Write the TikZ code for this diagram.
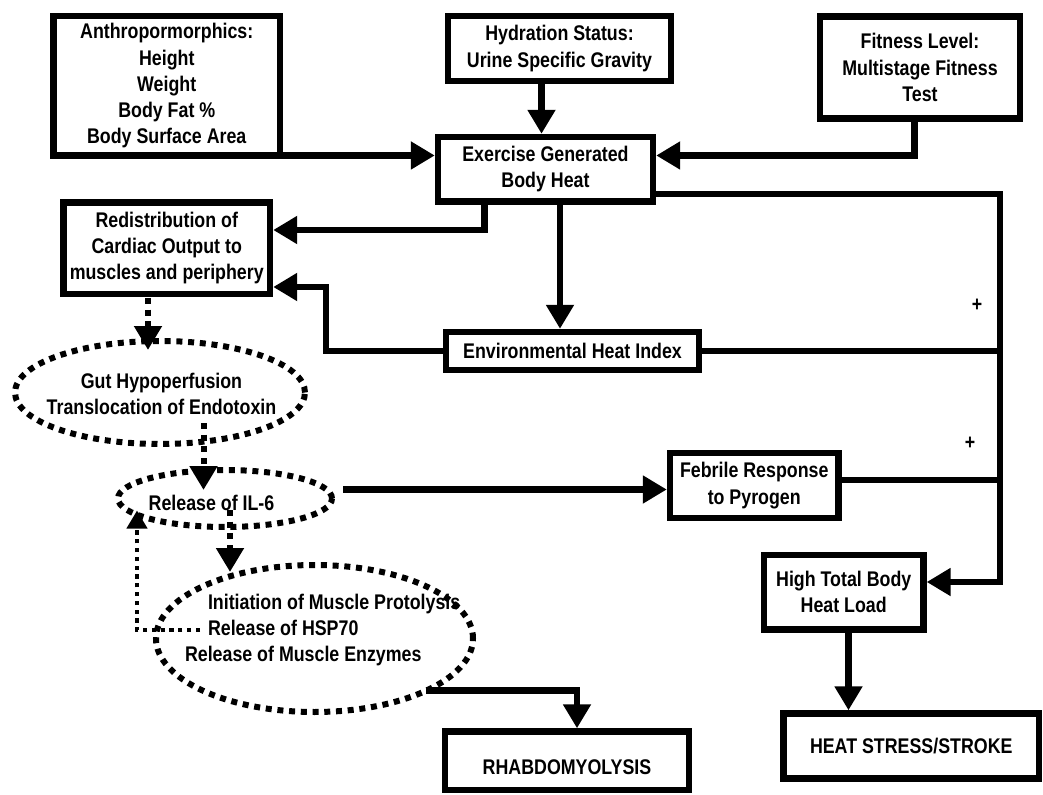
\documentclass[tikz,border=0pt]{standalone}
\usepackage{fontspec}
\setmainfont{Liberation Sans}[FakeStretch=0.84]
\usetikzlibrary{arrows.meta,shapes.geometric,calc}
\begin{document}
\begin{tikzpicture}[x=0.75pt,y=-0.75pt,
  every node/.style={font=\fontsize{15.9pt}{19.6pt}\selectfont\bfseries, inner sep=0pt, outer sep=0pt},
  box/.style={draw, line width=4.8pt, rectangle, align=center},
  txt/.style={align=center},
  oval/.style={draw, ellipse, line width=4.5pt, dash pattern=on 4.5pt off 4.3pt},
  conn/.style={line width=4.8pt},
  arr/.style={conn, -{Triangle[width=20pt,length=18pt]}, shorten >=2.4pt},
  dotarr/.style={line width=4.5pt, dash pattern=on 4.5pt off 4.3pt, -{Triangle[width=20pt,length=18pt]}},
  fbarr/.style={line width=3.2pt, dash pattern=on 3.2pt off 3.4pt, -{Triangle[width=15pt,length=13.5pt]}},
]
\fill[white] (0,0) rectangle (1043,795);
\useasboundingbox (0,0) rectangle (1043,795);

% boxes
\node[box, minimum width=169.9pt, minimum height=104.6pt] (A) at (166.75,85.75)
  {Anthropormorphics:\\Height\\Weight\\Body Fat \%\\Body Surface Area};
\node[box, minimum width=167.25pt, minimum height=48.75pt] (Hyd) at (559.5,48.5)
  {Hydration Status:\\Urine Specific Gravity};
\node[box, minimum width=150pt, minimum height=76.5pt] (Fit) at (920,67.5)
  {Fitness Level:\\Multistage Fitness\\Test};
\node[box, minimum width=161.25pt, minimum height=48.4pt] (Ex) at (545.5,169.25)
  {Exercise Generated\\Body Heat};
\node[box, minimum width=154.9pt, minimum height=68.6pt] (Red) at (166.75,248.25)
  {Redistribution of\\Cardiac Output to\\muscles and periphery};
\node[box, minimum width=189.75pt, minimum height=28.5pt] (Env) at (572.5,351)
  {Environmental Heat Index};
\node[box, minimum width=126.4pt, minimum height=48.75pt] (Feb) at (754.25,485.5)
  {Febrile Response\\to Pyrogen};
\node[box, minimum width=119.6pt, minimum height=55.9pt] (High) at (843.75,592.25)
  {High Total Body\\Heat Load};
\node[box, minimum width=191.6pt, minimum height=48.75pt] (Heat) at (911.25,746)
  {HEAT STRESS/STROKE};
\node[box, minimum width=183pt, minimum height=43.9pt] (Rh) at (567,760.75)
  {\raisebox{-5pt}[\height][\depth]{RHABDOMYOLYSIS}};

% dotted ellipses
\node[oval, minimum width=217.5pt, minimum height=77.25pt] (Gut) at (160,392.5) {};
\node[txt] (gtxt) at (161.5,394) {Gut Hypoperfusion\\Translocation of Endotoxin};
\node[oval, minimum width=160.5pt, minimum height=42.75pt] (IL6) at (225,498.5) {};
\node[txt] (itxt) at (211.5,503) {Release of IL-6};
\node[oval, minimum width=237.75pt, minimum height=110.25pt] (Mus) at (314.5,638.5) {};
\node[align=left, anchor=west] (mtxt) at (208,630)
  {Initiation of Muscle Protolysis\\Release of HSP70\\\hspace*{-17.25pt}Release of Muscle Enzymes};

% plus signs
\node (plus1) at (977,305) {+};
\node (plus2) at (970,443) {+};

% junction on the right bus
\coordinate (busB) at (1000,582);

% solid connectors
\draw[arr] (A.south east) -- (Ex.west |- A.south east);
\coordinate (hx) at ($(Ex.north)+(-4,0)$);
\draw[arr] (hx |- Hyd.south) -- (hx);
\coordinate (fx) at ($(Fit.south)+(-5.5,0)$);
\draw[arr] (fx) |- (Ex.east |- A.south east);
\coordinate (rx) at ($(Ex.south)+(-61,0)$);
\coordinate (ry) at ($(Red.east)+(0,-18.25)$);
\draw[arr] (rx) |- (ry);
\coordinate (ex2) at ($(Ex.south)+(14.5,0)$);
\draw[arr] (ex2) -- (ex2 |- Env.north);
\coordinate (r2) at ($(Red.east)+(0,38.75)$);
\draw[arr] (Env.west) -- ++(-120,0) |- (r2);
\coordinate (ex3) at ($(Ex.east)+(0,24.75)$);
\coordinate (hr) at ($(High.east)+(0,-10.25)$);
\draw[arr] (ex3) -| (busB) -- (hr);
\draw[conn] (Env.east) -- (Env.east -| busB);
\coordinate (fb) at ($(Feb.east)+(0,-5.5)$);
\draw[conn] (fb) -- (fb -| busB);
\coordinate (il) at ($(IL6.east)+(11,-9)$);
\draw[arr] (il) -- (il -| Feb.west);
\coordinate (hh) at ($(High.south)+(4.75,0)$);
\draw[arr] (hh) -- (hh |- Heat.north);
\draw[arr] (Mus.-25.8) -| ($(Rh.north)+(10,0)$);

% dotted connectors
\draw[dotarr] ($(Red.south)+(-18.75,4)$) -- ($(Gut.north)+(-12,9)$);
\draw[dotarr] ($(Gut.south)+(43.5,-21)$) -- ($(IL6.north)+(-21.5,20)$);
\draw[dotarr] ($(IL6.center)+(5,11.5)$) -- ($(Mus.center)+(-84.5,-66.5)$);
\draw[fbarr] ($(mtxt.west)+(-8,0)$) -| ($(IL6.center)+(-88,12)$);
\end{tikzpicture}
\end{document}
